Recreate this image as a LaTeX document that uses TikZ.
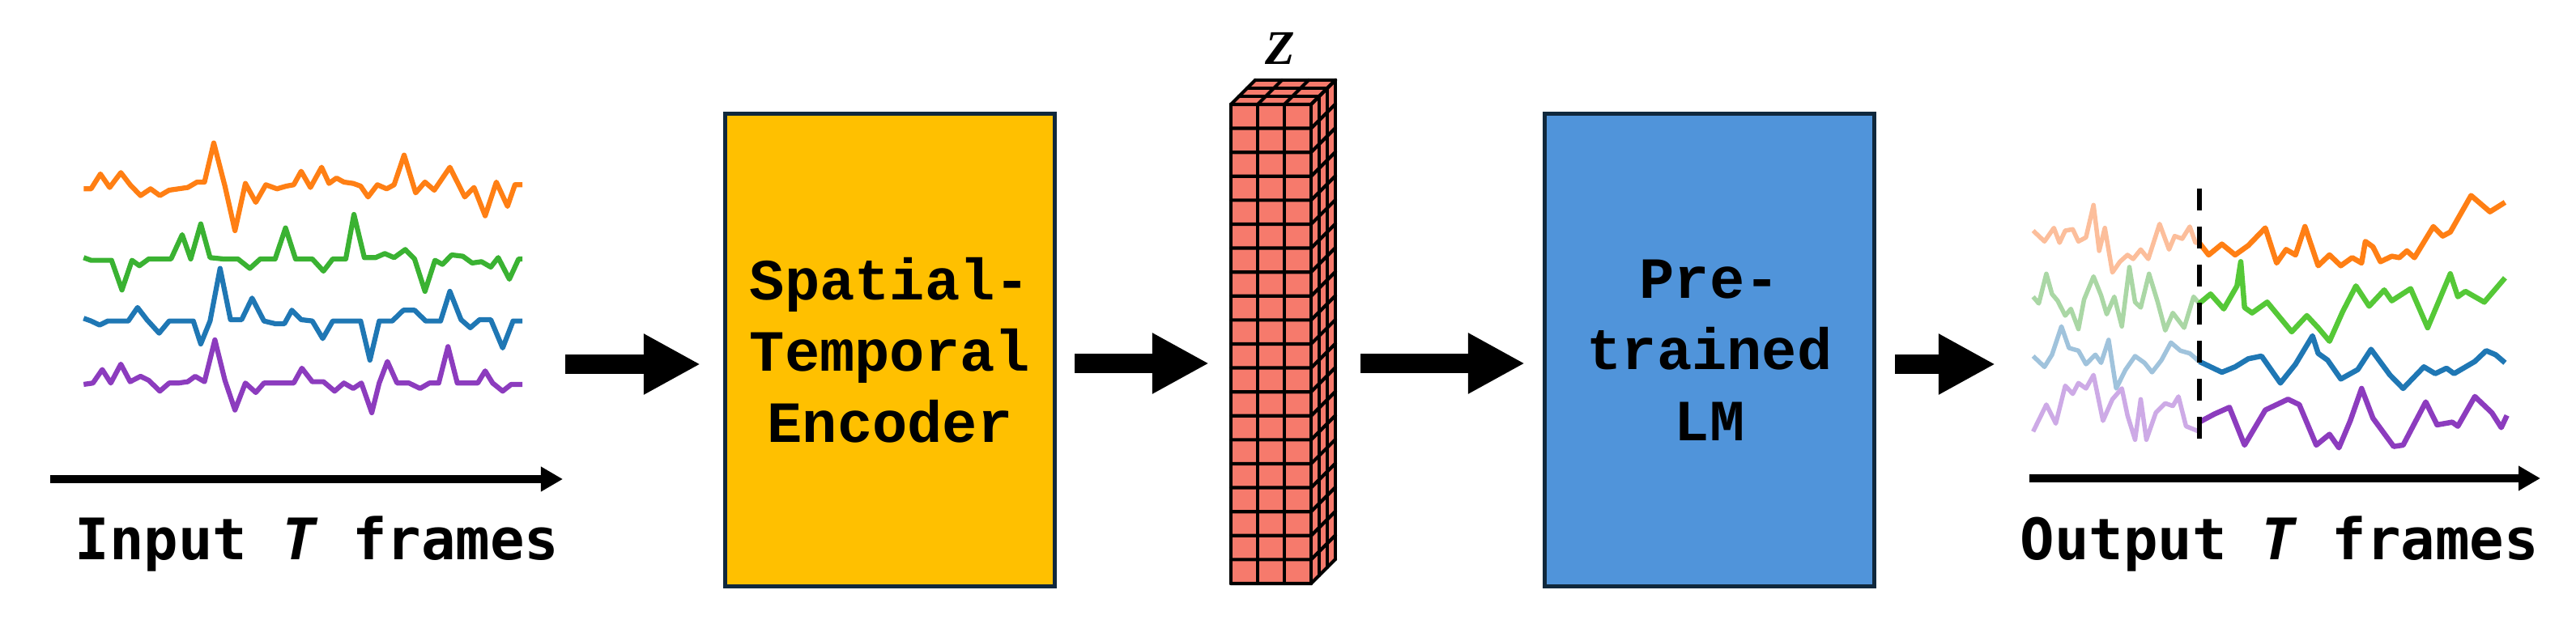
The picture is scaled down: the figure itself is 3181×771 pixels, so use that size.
\documentclass[tikz,border=0pt]{standalone}
\usepackage{fontspec}
\usetikzlibrary{arrows.meta}
\newfontfamily\boxfont{Liberation Mono}
\newfontfamily\labfont{DejaVu Sans Mono}
\newfontfamily\zfont{Liberation Serif}
\definecolor{encfill}{RGB}{255,192,0}
\definecolor{lmfill}{RGB}{80,148,218}
\definecolor{boxline}{RGB}{16,40,60}
\definecolor{towerfill}{RGB}{246,122,108}
\definecolor{cOr}{RGB}{255,127,20}
\definecolor{cGr}{RGB}{58,178,50}
\definecolor{cGrB}{RGB}{85,200,55}
\definecolor{cBl}{RGB}{31,119,180}
\definecolor{cPu}{RGB}{140,60,190}
\definecolor{fOr}{RGB}{252,190,155}
\definecolor{fGr}{RGB}{170,215,165}
\definecolor{fBl}{RGB}{160,195,220}
\definecolor{fPu}{RGB}{205,170,230}
\begin{document}
\begin{tikzpicture}[x=0.01cm,y=-0.01cm,
  blockbox/.style={draw=boxline, line width=0.05cm, minimum width=4.07cm, minimum height=5.84cm, inner sep=0pt, align=center, font=\boxfont\bfseries\fontsize{20.5}{25}\selectfont},
  bigarrow/.style={line width=0.24cm, -{Triangle[length=0.70cm,width=0.70cm]}},
  timearrow/.style={line width=0.1cm, -{Triangle[length=0.27cm,width=0.29cm]}},
  labstyle/.style={inner sep=0pt, anchor=base west, font=\labfont\bfseries\fontsize{20.1}{24}\selectfont},
  zstyle/.style={inner sep=0pt, font=\zfont\bfseries\itshape\fontsize{17}{20}\selectfont},
  wavein/.style={line width=0.062cm, line join=round},
  waveout/.style={line width=0.065cm, line join=round},
  wavefade/.style={line width=0.055cm, line join=round},
  gridl/.style={line width=0.042cm, black, line cap=round},
  towerface/.style={fill=towerfill}
]
\useasboundingbox (0,0) rectangle (3181,771);

% ---- input waves ----
\begin{scope}[shift={(0,150)}, xscale=0.4591, yscale=0.3333]
\draw[wavein, cOr] plot coordinates {(225,250) (245,250) (270,195) (295,245) (325,190) (350,235) (378,275) (405,250) (430,275) (455,255) (480,250) (505,245) (530,225) (550,225) (575,80) (605,240) (632,405) (660,230) (688,300) (715,235) (745,250) (770,240) (790,235) (810,185) (835,245) (865,170) (885,230) (905,210) (925,225) (950,230) (970,240) (990,280) (1015,235) (1040,250) (1060,235) (1087,125) (1118,265) (1143,225) (1168,255) (1210,170) (1250,280) (1275,245) (1305,350) (1335,225) (1365,315) (1385,235) (1405,235)};
\draw[wavein, cGr] plot coordinates {(225,505) (245,515) (270,515) (300,515) (328,625) (355,515) (375,535) (400,510) (430,510) (460,510) (490,420) (513,510) (540,380) (565,505) (600,510) (640,510) (672,545) (700,510) (740,510) (768,395) (795,510) (840,510) (870,555) (895,510) (930,510) (952,345) (980,505) (1010,505) (1035,490) (1060,505) (1090,475) (1115,510) (1143,630) (1170,515) (1190,530) (1215,495) (1245,500) (1270,525) (1295,520) (1320,540) (1340,505) (1370,585) (1395,510) (1405,510)};
\draw[wavein, cBl] plot coordinates {(225,730) (245,740) (268,755) (290,740) (320,740) (345,740) (370,690) (395,735) (428,785) (455,740) (490,740) (520,740) (540,825) (565,740) (592,545) (620,735) (650,735) (678,655) (710,740) (740,750) (765,750) (785,700) (810,735) (840,740) (868,805) (895,740) (920,740) (970,740) (995,885) (1020,740) (1055,740) (1085,700) (1115,700) (1145,740) (1185,740) (1210,630) (1240,735) (1265,765) (1290,735) (1320,735) (1352,840) (1380,740) (1405,740)};
\draw[wavein, cPu] plot coordinates {(225,975) (250,970) (275,920) (298,970) (325,900) (350,965) (378,945) (400,960) (430,1000) (455,970) (480,970) (505,965) (525,945) (550,965) (578,810) (605,960) (632,1070) (660,970) (688,1005) (710,970) (740,970) (790,970) (812,915) (840,965) (870,965) (900,1000) (925,970) (950,990) (972,970) (1000,1080) (1020,970) (1042,890) (1068,970) (1100,970) (1130,990) (1155,970) (1180,970) (1205,835) (1230,970) (1260,970) (1285,970) (1305,925) (1325,970) (1352,1000) (1375,975) (1405,975)};
\end{scope}

% ---- time axis + labels ----
\coordinate (ins) at (62,592);
\coordinate (ine) at (695,592);
\draw[timearrow] (ins) -- (ine);
\node[labstyle] (inlab) at (92,692) {Input \textit{T} frames};

\coordinate (outs) at (2506,591);
\coordinate (oute) at (3137,591);
\draw[timearrow] (outs) -- (oute);
\node[labstyle] (outlab) at (2494,692) {Output \textit{T} frames};

% ---- blocks ----
\node[blockbox, fill=encfill] (enc) at (1099,432.5) {Spatial-\\Temporal\\Encoder};
\node[blockbox, fill=lmfill] (lm) at (2111,432.5) {Pre-\\trained\\LM};

% ---- tower Z ----
\fill[towerface] (1520,129) rectangle (1619,721);
\fill[towerface] (1520,129) -- (1550,99) -- (1649,99) -- (1619,129) -- cycle;
\fill[towerface] (1619,129) -- (1649,99) -- (1649,691) -- (1619,721) -- cycle;
\foreach \i in {0,...,3} {
  \draw[gridl] ({1520+33*\i},129) -- ({1520+33*\i},721);
  \draw[gridl] ({1520+33*\i},129) -- ({1550+33*\i},99);
  \draw[gridl] ({1619+10*\i},{129-10*\i}) -- ({1619+10*\i},{721-10*\i});
  \draw[gridl] ({1520+10*\i},{129-10*\i}) -- ({1619+10*\i},{129-10*\i});
}
\foreach \j in {0,...,20} {
  \draw[gridl] (1520,{129+29.6*\j}) -- (1619,{129+29.6*\j}) -- (1649,{99+29.6*\j});
}
\node[zstyle] (zlab) at (1581,60) {Z};

% ---- big arrows ----
\coordinate (a1s) at (698,450);  \coordinate (a1e) at (865,450);
\coordinate (a2s) at (1327,449); \coordinate (a2e) at (1493,449);
\coordinate (a3s) at (1680,449); \coordinate (a3e) at (1883,449);
\coordinate (a4s) at (2340,450); \coordinate (a4e) at (2464,450);
\draw[bigarrow] (a1s) -- (a1e);
\draw[bigarrow] (a2s) -- (a2e);
\draw[bigarrow] (a3s) -- (a3e);
\draw[bigarrow] (a4s) -- (a4e);

% ---- output waves ----
\begin{scope}[shift={(2450,200)}, xscale=0.4662, yscale=0.3333]
\draw[wavefade, fOr] plot coordinates {(130,255) (160,295) (185,245) (200,300) (215,255) (235,250) (250,295) (270,280) (290,160) (305,330) (320,245) (340,410) (360,370) (380,345) (395,360) (415,325) (435,360) (465,230) (490,325) (505,275) (525,285) (545,240) (560,300) (570,300)};
\draw[wavefade, fGr] plot coordinates {(130,500) (145,525) (165,415) (180,490) (195,515) (215,570) (230,545) (250,620) (265,510) (290,425) (310,495) (325,565) (345,500) (365,610) (385,390) (400,520) (415,540) (437,415) (460,520) (480,625) (500,560) (530,615) (555,500) (570,525)};
\draw[wavefade, fBl] plot coordinates {(130,720) (160,760) (180,715) (205,610) (225,690) (250,700) (270,750) (295,715) (310,745) (330,660) (350,840) (375,770) (400,720) (425,745) (445,780) (470,735) (495,670) (520,700) (545,710) (570,740)};
\draw[wavefade, fPu] plot coordinates {(130,1000) (165,900) (190,970) (215,830) (235,860) (250,820) (270,840) (290,790) (315,960) (340,880) (365,840) (380,940) (400,1030) (415,880) (430,1030) (455,930) (480,895) (500,905) (515,870) (535,980) (570,1000)};
\draw[waveout, cOr] plot coordinates {(570,300) (595,345) (630,305) (665,345) (700,310) (745,245) (775,375) (800,325) (825,345) (850,240) (885,385) (915,345) (945,385) (975,355) (1000,375) (1010,295) (1030,315) (1050,370) (1080,350) (1100,355) (1120,330) (1140,355) (1190,240) (1215,275) (1235,260) (1290,125) (1340,185) (1380,150)};
\draw[waveout, cGrB] plot coordinates {(570,525) (600,490) (635,545) (670,460) (680,370) (690,540) (710,560) (750,520) (815,630) (855,570) (885,615) (915,665) (950,555) (985,460) (1020,535) (1060,475) (1080,515) (1130,470) (1175,615) (1235,415) (1255,500) (1275,480) (1300,500) (1325,520) (1380,430)};
\draw[waveout, cBl] plot coordinates {(570,740) (600,760) (630,780) (665,760) (700,730) (735,720) (785,820) (825,750) (870,645) (885,710) (910,735) (945,805) (990,770) (1025,695) (1075,790) (1110,840) (1165,760) (1195,785) (1225,765) (1245,785) (1300,740) (1330,700) (1355,715) (1380,745)};
\draw[waveout, cPu] plot coordinates {(570,965) (610,935) (650,910) (690,1050) (745,920) (805,880) (835,900) (880,1050) (915,1010) (940,1060) (970,960) (1000,840) (1030,950) (1085,1055) (1110,1050) (1170,890) (1200,975) (1240,965) (1255,980) (1300,870) (1345,930) (1370,985) (1385,940)};
\end{scope}
\coordinate (dtop) at (2716,233);
\coordinate (dbot) at (2716,543);
\draw[line width=0.055cm, dash pattern=on 0.27cm off 0.2cm] (dtop) -- (dbot);
\end{tikzpicture}
\end{document}
